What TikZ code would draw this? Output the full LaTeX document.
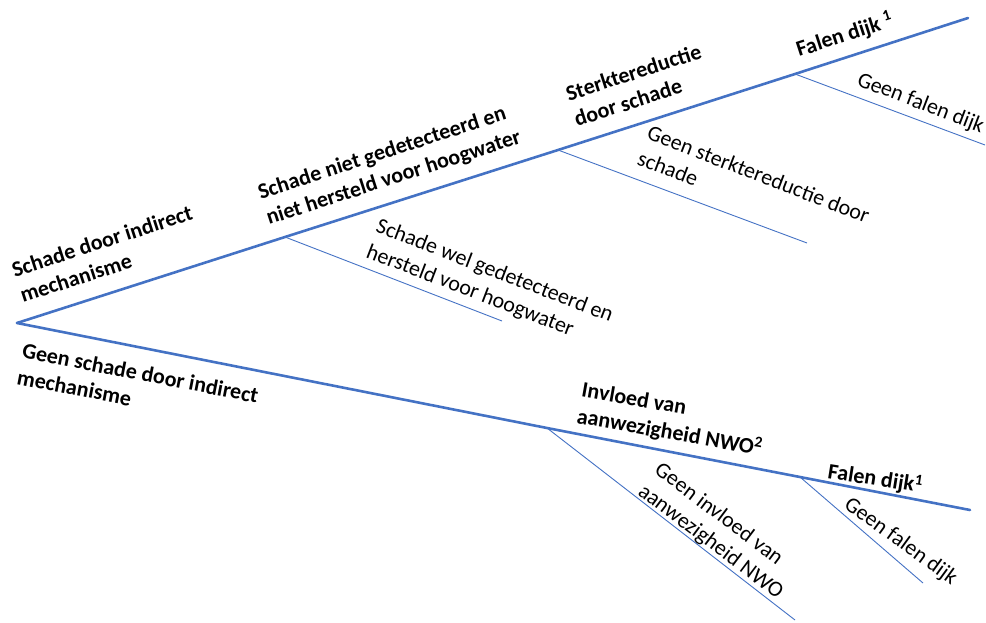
\documentclass[tikz,border=0pt]{standalone}
\usepackage{fontspec}
\setmainfont{Carlito}
\definecolor{branch}{HTML}{4472C4}
\begin{document}
\begin{tikzpicture}[x=1pt,y=-1pt,
  trunk/.style={draw=branch, line width=2.6pt},
  twig/.style={draw=branch, line width=0.9pt},
  % labels are placed by the start of their last baseline
  lbl/.style={inner sep=0pt, anchor=base west, align=left,
    font=\fontsize{22}{27}\selectfont},
  boldlbl/.style={lbl, font=\fontsize{22}{27}\selectfont\bfseries}]
\useasboundingbox (0,0) rectangle (986,622);

% branch points
\coordinate (root) at (17,323);
\coordinate (u1) at (285,237);
\coordinate (u2) at (558,150);
\coordinate (u3) at (795,74);
\coordinate (uend) at (968,18);
\coordinate (u1b) at (502,321);
\coordinate (u2b) at (807,243);
\coordinate (u3b) at (985,145);
\coordinate (l1) at (547,428);
\coordinate (l2) at (800,477);
\coordinate (lend) at (970,510);
\coordinate (l1b) at (795,620);
\coordinate (l2b) at (923,583);

% main branches
\draw[trunk, line cap=round] (root) -- (u1) -- (u2) -- (u3) -- (uend);
\draw[trunk, line cap=round] (root) -- (l1) -- (l2) -- (lend);
% side branches
\draw[twig] (u1) -- (u1b);
\draw[twig] (u2) -- (u2b);
\draw[twig] (u3) -- (u3b);
\draw[twig] (l1) -- (l1b);
\draw[twig] (l2) -- (l2b);

% labels on the upper path
\node[boldlbl, rotate=18] (t1) at (23,303) {Schade door indirect\\mechanisme};
\node[boldlbl, rotate=18] (t2) at (269,225) {Schade niet gedetecteerd en\\niet hersteld voor hoogwater};
\node[lbl, rotate=-21] (t3) at (365,257) {Schade wel gedetecteerd en\\hersteld voor hoogwater};
\node[boldlbl, rotate=18] (t4) at (577,127) {Sterktereductie\\door schade};
\node[lbl, rotate=-21] (t5) at (636,164) {Geen sterktereductie door\\schade};
\node[boldlbl, rotate=18] (t6) at (799,57) {Falen dijk \textsuperscript{1}};
\node[lbl, rotate=-21] (t7) at (856,85) {Geen falen dijk};

% labels on the lower path
\node[boldlbl, rotate=-11] (t8) at (16,384) {Geen schade door indirect\\mechanisme};
\node[boldlbl, rotate=-10] (t9) at (576,423) {Invloed van\\aanwezigheid NWO\textsuperscript{2}};
\node[lbl, rotate=-37] (t10) at (637,494) {Geen invloed van\\aanwezigheid NWO};
\node[boldlbl, rotate=-9] (t11) at (827,478) {Falen dijk\textsuperscript{1}};
\node[lbl, rotate=-36] (t12) at (843,507) {Geen falen dijk};
\end{tikzpicture}
\end{document}
